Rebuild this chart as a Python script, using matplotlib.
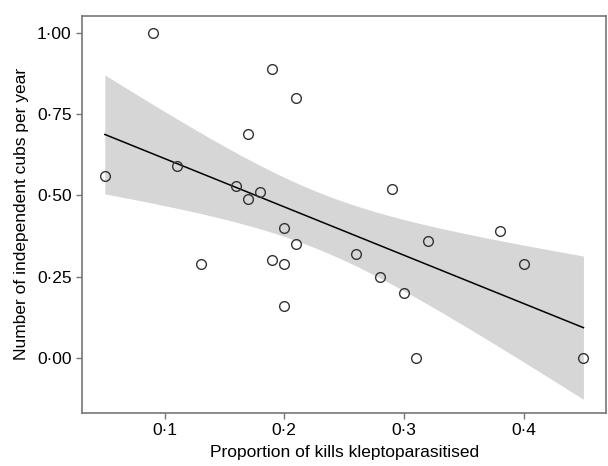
import numpy as np
import matplotlib.pyplot as plt

plt.rcParams['font.family'] = ['Liberation Sans', 'DejaVu Sans']

# proportion of kills kleptoparasitised / independent cubs per year
klepto = [0.05, 0.09, 0.11, 0.13, 0.16, 0.17, 0.17, 0.18, 0.19, 0.19, 0.20, 0.20,
          0.20, 0.21, 0.21, 0.26, 0.28, 0.29, 0.30, 0.31, 0.32, 0.38, 0.40, 0.45]
cubs = [0.56, 1.00, 0.59, 0.29, 0.53, 0.69, 0.49, 0.51, 0.89, 0.30, 0.40, 0.29,
        0.16, 0.80, 0.35, 0.32, 0.25, 0.52, 0.20, 0.00, 0.36, 0.39, 0.29, 0.00]

x = np.array(klepto)
y = np.array(cubs)
n = len(x)

# linear fit with 95% confidence band (like geom_smooth(method='lm'))
b1, b0 = np.polyfit(x, y, 1)
resid = y - (b0 + b1 * x)
s = np.sqrt(np.sum(resid ** 2) / (n - 2))
tval = 2.0739  # t(0.975, df=22)
xs = np.linspace(x.min(), x.max(), 100)
ys = b0 + b1 * xs
se = s * np.sqrt(1.0 / n + (xs - x.mean()) ** 2 / np.sum((x - x.mean()) ** 2))

def fmt(v, pos, nd):
    return ('%.*f' % (nd, v)).replace('.', '\u00b7')

fig = plt.figure(figsize=(6.08, 4.66), dpi=100)
ax = fig.add_axes([0.135, 0.114, 0.862, 0.852])

ax.fill_between(xs, ys - tval * se, ys + tval * se, color='#d6d6d6', lw=0)
ax.plot(xs, ys, color='black', lw=1.1)
ax.plot(x, y, 'o', mfc='none', mec='#333333', mew=1.0, ms=7)

ax.set_xlim(0.031, 0.469)
ax.set_ylim(-0.17, 1.053)
ax.set_xticks([0.1, 0.2, 0.3, 0.4])
ax.set_yticks([0.0, 0.25, 0.5, 0.75, 1.0])
ax.xaxis.set_major_formatter(plt.FuncFormatter(lambda v, p: fmt(v, p, 1)))
ax.yaxis.set_major_formatter(plt.FuncFormatter(lambda v, p: fmt(v, p, 2)))

for sp in ax.spines.values():
    sp.set_color('#777777')
    sp.set_linewidth(1.2)
ax.tick_params(colors='#777777', labelcolor='black', labelsize=12.5, length=4, width=1)

ax.set_xlabel('Proportion of kills kleptoparasitised', fontsize=12.5, labelpad=5)
ax.set_ylabel('Number of independent cubs per year', fontsize=12.5, labelpad=6)

fig.savefig('out.png', dpi=100)
